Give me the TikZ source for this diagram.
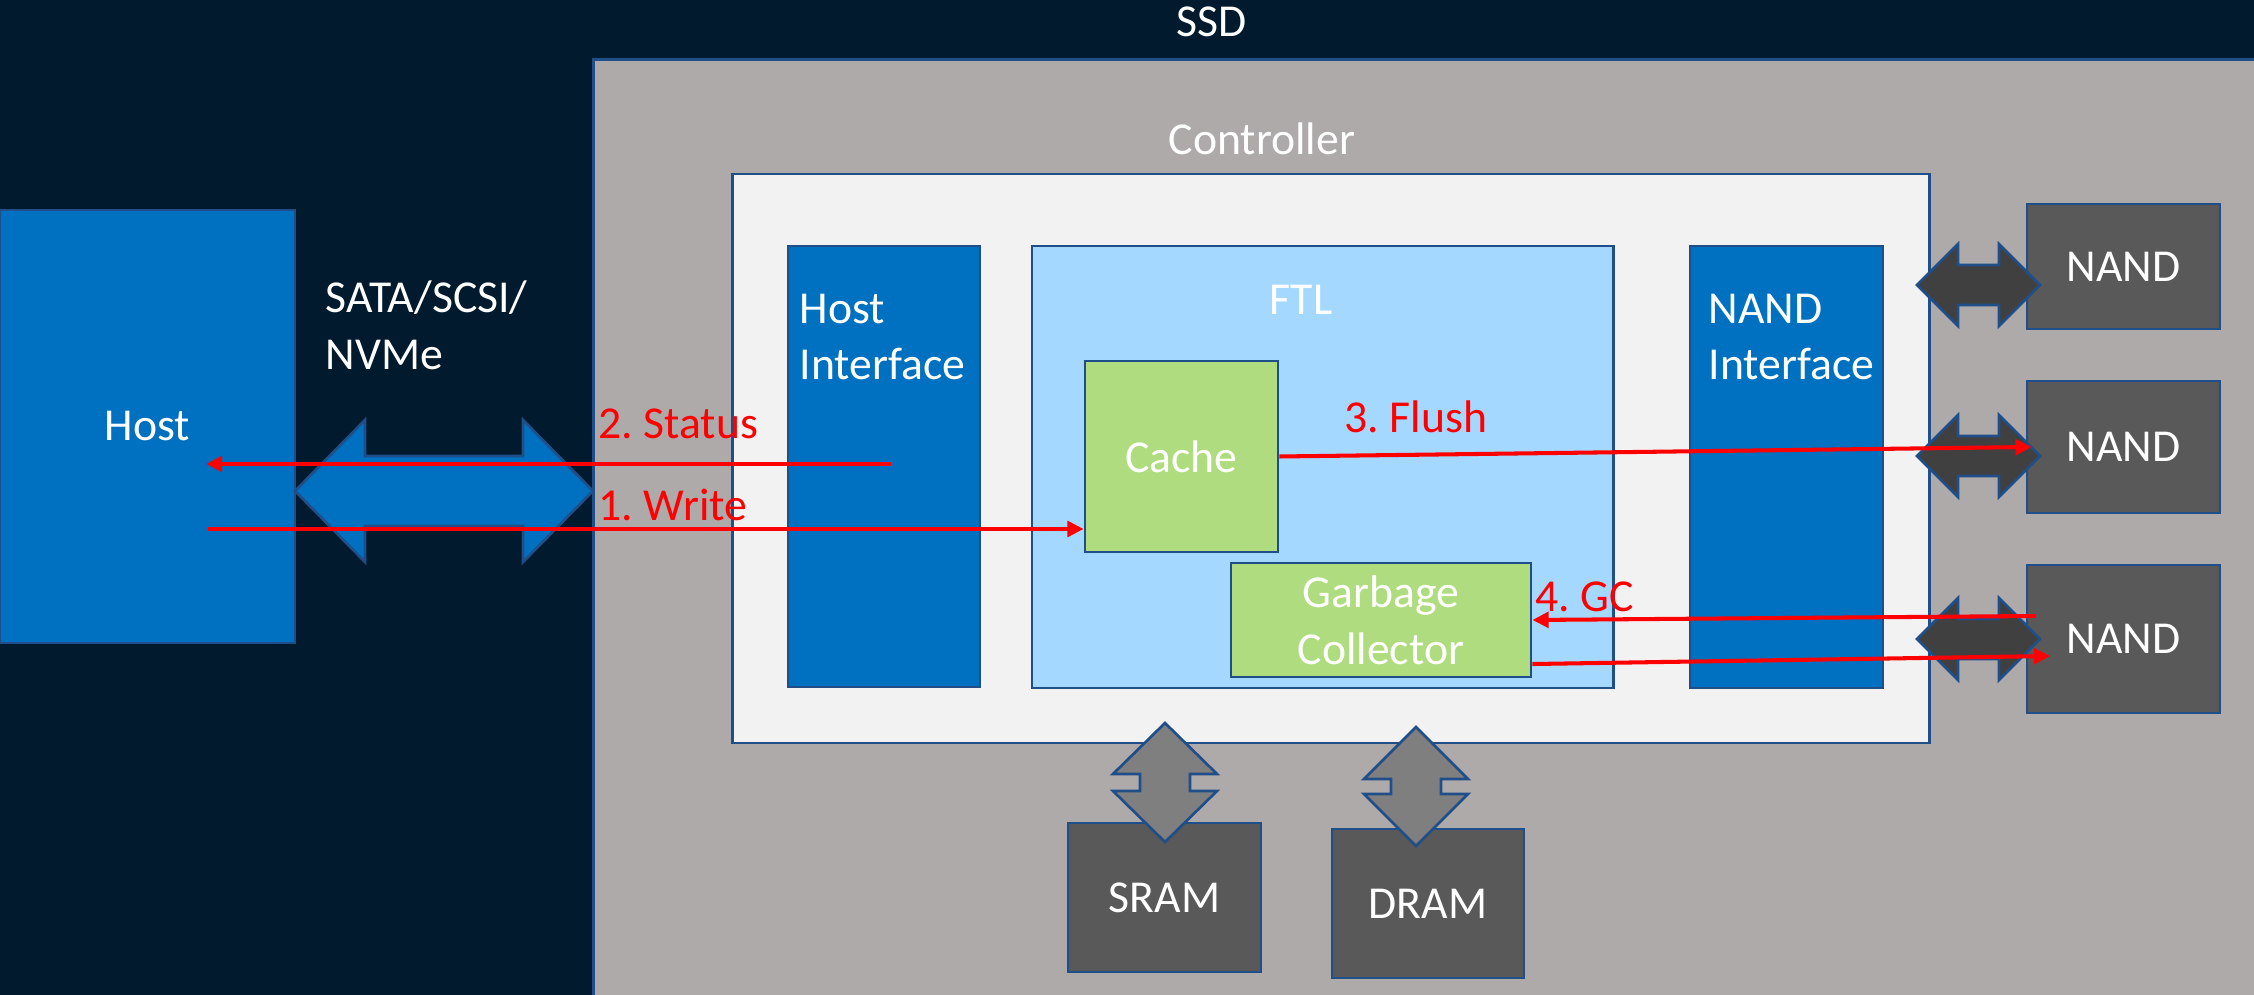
\documentclass[tikz,border=0pt]{standalone}
\usepackage{fontspec}
\setmainfont{Carlito}
\usetikzlibrary{arrows.meta}
\frenchspacing

\definecolor{bgnavy}{HTML}{011A2E}
\definecolor{ssdgray}{HTML}{AEAAAA}
\definecolor{ctrlwhite}{HTML}{F2F2F2}
\definecolor{ifblue}{HTML}{0070C0}
\definecolor{ftlblue}{HTML}{A5D8FF}
\definecolor{cachegreen}{HTML}{AFDC7E}
\definecolor{chipgray}{HTML}{595959}
\definecolor{busdark}{HTML}{404040}
\definecolor{busgray}{HTML}{7F7F7F}
\definecolor{edgeblue}{HTML}{1F4E89}
\definecolor{flowred}{HTML}{FF0000}

% double-headed bus arrows: style, ends, middle, head length, head half-width, shaft half-width
\newcommand{\hbus}[7]{%
  \draw[#1] (#2,#4) -- ++(#5,-#6) -- ++(0,#6-#7) -- (#3-#5,#4-#7) -- ++(0,#7-#6)
    -- (#3,#4) -- ++(-#5,#6) -- ++(0,#7-#6) -- (#2+#5,#4+#7) -- ++(0,#6-#7) -- cycle;}
\newcommand{\vbus}[7]{%
  \draw[#1] (#2,#3) -- ++(#6,#5) -- ++(#7-#6,0) -- (#2+#7,#4-#5) -- ++(#6-#7,0)
    -- (#2,#4) -- ++(-#6,-#5) -- ++(#6-#7,0) -- (#2-#7,#3+#5) -- ++(#7-#6,0) -- cycle;}

\begin{document}
\begin{tikzpicture}
    [
    x=0.01cm, y=-0.01cm,
    every node/.style={font=\fontsize{13}{16.2}\selectfont, text=white},
    box/.style={draw=edgeblue, line width=0.75pt, inner sep=0pt},
    bluebox/.style={box, fill=ifblue},
    greenbox/.style={box, fill=cachegreen, align=center},
    chipbox/.style={box, fill=chipgray},
    caption/.style={inner sep=0pt},
    flowlabel/.style={inner sep=0pt, anchor=west, text=flowred},
    flow/.style={draw=flowred, line width=1.15pt, -{Triangle[length=4.6pt,width=4.4pt]}},
    hostbus/.style={fill=ifblue, draw=edgeblue, line width=0.75pt},
    nandbus/.style={fill=busdark, draw=edgeblue, line width=0.75pt},
    rambus/.style={fill=busgray, draw=edgeblue, line width=0.75pt}
    ]
    \useasboundingbox (0,0) rectangle (2254,995);
    \fill[bgnavy] (0,0) rectangle (2254,995);
    \clip (0,0) rectangle (2254,995);

    % drive and controller
    \node (ssd) at (1429,535) [box, fill=ssdgray, minimum width=16.7cm, minimum height=9.5cm] {};
    \node (ssdlbl) at (1212,22) [caption] {SSD};
    \node (ctrl) at (1331,458.5) [box, fill=ctrlwhite, minimum width=11.96cm, minimum height=5.69cm] {};
    \node (ctrllbl) at (1262,139) [caption] {Controller};
    \node (hostif) at (884,466.5) [bluebox, minimum width=1.92cm, minimum height=4.41cm] {};
    \node (hostiflbl) at (799,337) [caption, anchor=west, align=left] {Host\\Interface};
    \node (ftl) at (1322.5,467) [box, fill=ftlblue, minimum width=5.81cm, minimum height=4.42cm] {};
    \node (ftllbl) at (1301,300) [caption] {FTL};
    \node (nandif) at (1786.5,467) [bluebox, minimum width=1.93cm, minimum height=4.42cm] {};
    \node (nandiflbl) at (1708,337) [caption, anchor=west, align=left] {NAND\\Interface};
    \node (cache) at (1181.5,456.5) [greenbox, minimum width=1.93cm, minimum height=1.91cm] {Cache};
    \node (gc) at (1381,620) [greenbox, minimum width=3cm, minimum height=1.14cm] {Garbage\\Collector};

    % host side
    \node (host) at (147.5,426.5) [bluebox, minimum width=2.95cm, minimum height=4.33cm] {Host};
    \node (buslbl) at (325,325) [caption, anchor=west, align=left] {SATA/SCSI/\\NVMe};
    \hbus{hostbus}{295}{593}{491}{70}{71}{35}

    % flash chips
    \foreach \n/\y/\h/\ay in {1/266.5/1.25/285, 2/447/1.32/456, 3/639/1.48/639} {
      \node (nand\n) at (2123.5,\y) [chipbox, minimum width=1.93cm, minimum height=\h cm] {NAND};
      \hbus{nandbus}{1917}{2040}{\ay}{41}{41}{20}
    }

    % memories
    \node (sram) at (1164.5,897.5) [chipbox, minimum width=1.93cm, minimum height=1.49cm] {SRAM};
    \node (dram) at (1428,903.5) [chipbox, minimum width=1.92cm, minimum height=1.49cm] {DRAM};
    \vbus{rambus}{1165}{723}{842}{51}{52}{25}
    \vbus{rambus}{1416}{727}{846}{52}{52}{25}

    % data flow
    \coordinate (stsrc) at (891,464);
    \coordinate (stdst) at (206,464);
    \draw[flow] (stsrc) -- (stdst);
    \node (stlbl) at (598,424) [flowlabel] {2. Status};
    \coordinate (wrsrc) at (208,529);
    \draw[flow] (wrsrc) -- (wrsrc -| cache.west);
    \node (wrlbl) at (598,505) [flowlabel] {1. Write};
    \draw[flow] (cache.east) -- ([xshift=0.06cm]nand2.west);
    \node (fllbl) at (1344,417) [flowlabel] {3. Flush};
    \coordinate (gcsrc) at (2036,616);
    \draw[flow] (gcsrc) -- (gc.east);
    \node (gclbl) at (1535,597) [flowlabel] {4. GC};
    \coordinate (gcdst) at (2050,656);
    \draw[flow] ([yshift=-0.44cm]gc.east) -- (gcdst);
  \end{tikzpicture}
\end{document}
